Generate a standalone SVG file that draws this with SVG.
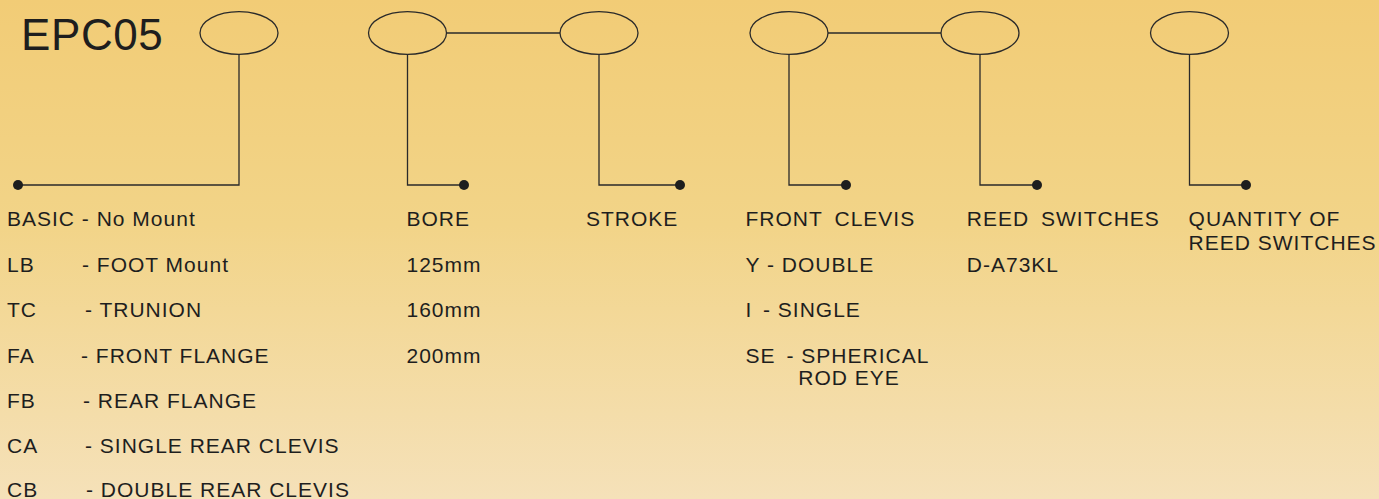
<svg xmlns="http://www.w3.org/2000/svg" width="1379" height="499" viewBox="0 0 1379 499">
<defs>
<linearGradient id="bg" x1="0" y1="0" x2="0" y2="1">
<stop offset="0" stop-color="#f2cc76"/>
<stop offset="0.45" stop-color="#f2d488"/>
<stop offset="1" stop-color="#f5e1b9"/>
</linearGradient>
<style>
.slot{fill:none;stroke:#2a2a2a;stroke-width:1.3}
.wire{fill:none;stroke:#2a2a2a;stroke-width:1.3}
.dot{fill:#1e1e1e}
.t{font-family:"Liberation Sans",Arial,sans-serif;font-size:21px;letter-spacing:1px;fill:#1e1e1e}
.title{font-family:"Liberation Sans",Arial,sans-serif;font-size:44px;letter-spacing:0.6px;fill:#1e1e1e}
</style>
</defs>
<rect x="0" y="0" width="1379" height="499" fill="url(#bg)"/>
<text class="title" x="21" y="50">EPC05</text>

<g id="connectors">
<polyline class="wire" points="18,185 239,185 239,54.3"/>
<polyline class="wire" points="407.5,54.3 407.5,185 464,185"/>
<polyline class="wire" points="599,54.3 599,185 680,185"/>
<line class="wire" x1="446.5" y1="33" x2="560" y2="33"/>
<polyline class="wire" points="789,54.3 789,185 846,185"/>
<polyline class="wire" points="980,54.3 980,185 1037,185"/>
<line class="wire" x1="828" y1="33" x2="941" y2="33"/>
<polyline class="wire" points="1189.5,54.3 1189.5,185 1246,185"/>
<circle class="dot" cx="18" cy="185" r="5"/>
<circle class="dot" cx="464" cy="185" r="5"/>
<circle class="dot" cx="680" cy="185" r="5"/>
<circle class="dot" cx="846" cy="185" r="5"/>
<circle class="dot" cx="1037" cy="185" r="5"/>
<circle class="dot" cx="1246" cy="185" r="5"/>
</g>

<g id="mount">
<ellipse class="slot" cx="239" cy="33" rx="39" ry="21.3"/>
<text class="t" x="7" y="226">BASIC - No Mount</text>
<text class="t" x="7" y="271.7">LB<tspan x="82">- FOOT Mount</tspan></text>
<text class="t" x="7" y="317">TC<tspan x="85">- TRUNION</tspan></text>
<text class="t" x="7" y="362.5">FA<tspan x="81">- FRONT FLANGE</tspan></text>
<text class="t" x="7" y="408">FB<tspan x="83">- REAR FLANGE</tspan></text>
<text class="t" x="7" y="453.3">CA<tspan x="85">- SINGLE REAR CLEVIS</tspan></text>
<text class="t" x="7" y="497.3">CB<tspan x="86">- DOUBLE REAR CLEVIS</tspan></text>
</g>

<g id="bore">
<ellipse class="slot" cx="407.5" cy="33" rx="39" ry="21.3"/>
<text class="t" x="406.5" y="226">BORE</text>
<text class="t" x="406.5" y="271.7">125mm</text>
<text class="t" x="406.5" y="317">160mm</text>
<text class="t" x="406.5" y="362.5">200mm</text>
</g>

<g id="stroke">
<ellipse class="slot" cx="599" cy="33" rx="39" ry="21.3"/>
<text class="t" x="586" y="226">STROKE</text>
</g>

<g id="front-clevis">
<ellipse class="slot" cx="789" cy="33" rx="39" ry="21.3"/>
<text class="t" x="745.5" y="226">FRONT<tspan x="834.5">CLEVIS</tspan></text>
<text class="t" x="745.5" y="271.7">Y - DOUBLE</text>
<text class="t" x="745.5" y="317">I<tspan x="763">- SINGLE</tspan></text>
<text class="t" x="745.5" y="362.5">SE<tspan x="786.5">- SPHERICAL</tspan></text>
<text class="t" x="798.3" y="385">ROD EYE</text>
</g>

<g id="reed-switches">
<ellipse class="slot" cx="980" cy="33" rx="39" ry="21.3"/>
<text class="t" x="966.8" y="226">REED<tspan x="1041">SWITCHES</tspan></text>
<text class="t" x="966.8" y="271.7">D-A73KL</text>
</g>

<g id="quantity">
<ellipse class="slot" cx="1189.5" cy="33" rx="39" ry="21.3"/>
<text class="t" x="1188.6" y="226">QUANTITY OF</text>
<text class="t" x="1188.6" y="249.5">REED SWITCHES</text>
</g>
</svg>
